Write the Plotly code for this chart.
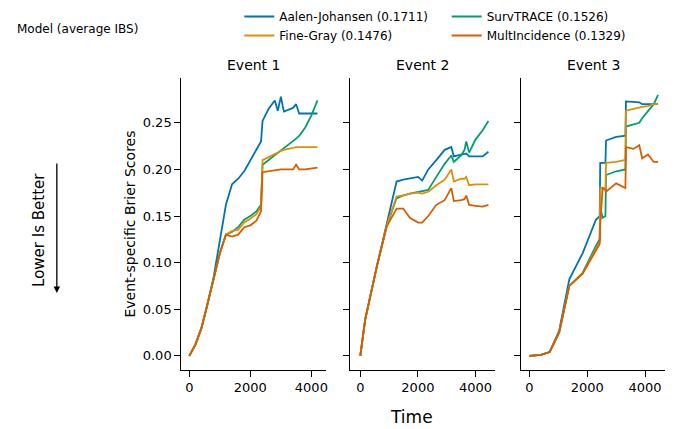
import plotly.graph_objects as go

# ---- data ----
models = ["Aalen-Johansen (0.1711)", "SurvTRACE (0.1526)", "Fine-Gray (0.1476)", "MultIncidence (0.1329)"]
colors = ["#0173b2", "#029e73", "#de8f05", "#d55e00"]
legend_of = ["legend", "legend2", "legend", "legend2"]

t1 = [0, 200, 400, 600, 800, 1000, 1200, 1400, 1600, 1800, 2000, 2200, 2350, 2400, 2600, 2800, 2900, 3000, 3100, 3400, 3500, 3600, 3800, 4000, 4200]
e1_aj = [0, 0.012, 0.03, 0.055, 0.085, 0.125, 0.162, 0.184, 0.19, 0.198, 0.21, 0.222, 0.23, 0.252, 0.265, 0.274, 0.263, 0.278, 0.262, 0.266, 0.27, 0.26, 0.26, 0.26, 0.26]
e1_st = [0, 0.012, 0.03, 0.055, 0.083, 0.11, 0.13, 0.133, 0.138, 0.146, 0.15, 0.155, 0.162, 0.205, 0.21, 0.215, 0.218, 0.22, 0.222, 0.23, 0.233, 0.236, 0.245, 0.258, 0.274]
e1_fg = [0, 0.012, 0.03, 0.055, 0.083, 0.11, 0.13, 0.134, 0.135, 0.143, 0.147, 0.152, 0.16, 0.21, 0.213, 0.216, 0.218, 0.22, 0.221, 0.223, 0.224, 0.224, 0.224, 0.224, 0.224]
e1_mi = [0, 0.012, 0.03, 0.055, 0.083, 0.11, 0.13, 0.128, 0.13, 0.138, 0.14, 0.145, 0.155, 0.197, 0.198, 0.199, 0.2, 0.2, 0.2, 0.2, 0.205, 0.2, 0.2, 0.201, 0.202]

t2 = [0, 170, 575, 920, 1260, 1490, 1720, 2010, 2150, 2360, 2640, 2930, 3160, 3250, 3500, 3620, 3680, 3780, 4000, 4250, 4450]
e2_aj = [0, 0.039, 0.096, 0.142, 0.187, 0.189, 0.19, 0.192, 0.188, 0.2, 0.21, 0.221, 0.224, 0.214, 0.216, 0.217, 0.217, 0.214, 0.214, 0.214, 0.219]
e2_st = [0, 0.039, 0.096, 0.14, 0.169, 0.172, 0.174, 0.176, 0.177, 0.178, 0.192, 0.206, 0.215, 0.208, 0.215, 0.221, 0.23, 0.218, 0.232, 0.242, 0.252]
e2_fg = [0, 0.039, 0.096, 0.14, 0.171, 0.172, 0.174, 0.175, 0.174, 0.176, 0.183, 0.189, 0.2, 0.187, 0.19, 0.19, 0.192, 0.183, 0.184, 0.184, 0.184]
e2_mi = [0, 0.039, 0.096, 0.139, 0.158, 0.158, 0.148, 0.143, 0.143, 0.15, 0.162, 0.167, 0.18, 0.166, 0.167, 0.168, 0.172, 0.162, 0.161, 0.16, 0.162]

t3 = [0, 400, 700, 1030, 1380, 1840, 2300, 2430, 2450, 2530, 2630, 2650, 3000, 3280, 3320, 3340, 3600, 3800, 3900, 4100, 4300, 4450]
e3_aj = [0, 0.001, 0.004, 0.027, 0.082, 0.11, 0.146, 0.15, 0.207, 0.207, 0.207, 0.231, 0.235, 0.236, 0.236, 0.273, 0.272, 0.272, 0.27, 0.27, 0.27, 0.27]
e3_st = [0, 0.001, 0.004, 0.025, 0.075, 0.089, 0.118, 0.125, 0.16, 0.148, 0.15, 0.194, 0.198, 0.2, 0.2, 0.246, 0.248, 0.25, 0.255, 0.262, 0.27, 0.28]
e3_fg = [0, 0.001, 0.004, 0.025, 0.075, 0.088, 0.115, 0.122, 0.18, 0.18, 0.18, 0.207, 0.208, 0.21, 0.21, 0.263, 0.265, 0.266, 0.267, 0.268, 0.27, 0.27]
e3_mi = [0, 0.001, 0.004, 0.025, 0.075, 0.088, 0.113, 0.12, 0.14, 0.18, 0.178, 0.176, 0.185, 0.18, 0.18, 0.224, 0.222, 0.226, 0.212, 0.216, 0.208, 0.208]

panels = [
    ("Event 1", t1, [e1_aj, e1_st, e1_fg, e1_mi], [-260, 4490]),
    ("Event 2", t2, [e2_aj, e2_st, e2_fg, e2_mi], [-345, 4690]),
    ("Event 3", t3, [e3_aj, e3_st, e3_fg, e3_mi], [-275, 4690]),
]
domains = [[0.264, 0.475], [0.510, 0.721], [0.759, 0.968]]

fig = go.Figure()
axis_style = dict(showline=True, linecolor="black", linewidth=1.2, ticks="outside",
                  tickcolor="black", ticklen=6, showgrid=False, zeroline=False,
                  tickfont=dict(size=13, color="black"))

for i, (title, t, series, xr) in enumerate(panels):
    n = "" if i == 0 else str(i + 1)
    for j, (name, col, vals) in enumerate(zip(models, colors, series)):
        fig.add_trace(go.Scatter(x=t, y=vals, mode="lines", name=name,
                                 line=dict(color=col, width=1.8),
                                 showlegend=(i == 0), legend=legend_of[j],
                                 xaxis="x" + n, yaxis="y" + n))
    fig.layout["xaxis" + n] = dict(domain=domains[i], range=xr, anchor="y" + n,
                                   tickvals=[0, 2000, 4000], **axis_style)
    fig.layout["yaxis" + n] = dict(domain=[0.138, 0.818], range=[-0.015, 0.298],
                                   anchor="x" + n, tickvals=[0, 0.05, 0.1, 0.15, 0.2, 0.25],
                                   tickformat=".2f", showticklabels=(i == 0), **axis_style)
    fig.add_annotation(text=title, x=sum(domains[i]) / 2, y=0.825, xref="paper", yref="paper",
                       xanchor="center", yanchor="bottom", showarrow=False,
                       font=dict(size=14, color="black"))

fig.add_annotation(text="Event-specific Brier Scores", x=120 / 689, y=0.478, xref="paper", yref="paper",
                   textangle=-90, showarrow=False, font=dict(size=14, color="black"))
fig.add_annotation(text="Time", x=413 / 689, y=0, xref="paper", yref="paper",
                   yanchor="bottom", showarrow=False, font=dict(size=17, color="black"))
fig.add_annotation(text="Lower Is Better", x=28 / 689, y=1 - 230 / 429, xref="paper", yref="paper",
                   textangle=-90, showarrow=False, font=dict(size=15, color="black"))
fig.add_annotation(x=57 / 689, y=1 - 293 / 429, ax=0, ay=-131,
                   xref="paper", yref="paper", text="",
                   showarrow=True, arrowhead=2, arrowsize=1, arrowwidth=1.3, arrowcolor="black")
fig.add_annotation(text="Model (average IBS)", x=15 / 689, y=1 - 20 / 429, xref="paper", yref="paper",
                   xanchor="left", showarrow=False, font=dict(size=12, color="black"))

leg = dict(xanchor="left", yanchor="top", y=1 - 2 / 429, font=dict(size=12), itemwidth=30,
           tracegroupgap=0, bgcolor="rgba(0,0,0,0)")
fig.update_layout(
    width=689, height=429, margin=dict(l=0, r=0, t=0, b=0),
    plot_bgcolor="white", paper_bgcolor="white",
    font=dict(family="DejaVu Sans", color="black"),
    legend=dict(x=240 / 689, **leg),
    legend2=dict(x=448 / 689, **leg),
)

fig.write_html("out.html", config={"displayModeBar": False},
               post_script="document.body.style.margin='0';")
